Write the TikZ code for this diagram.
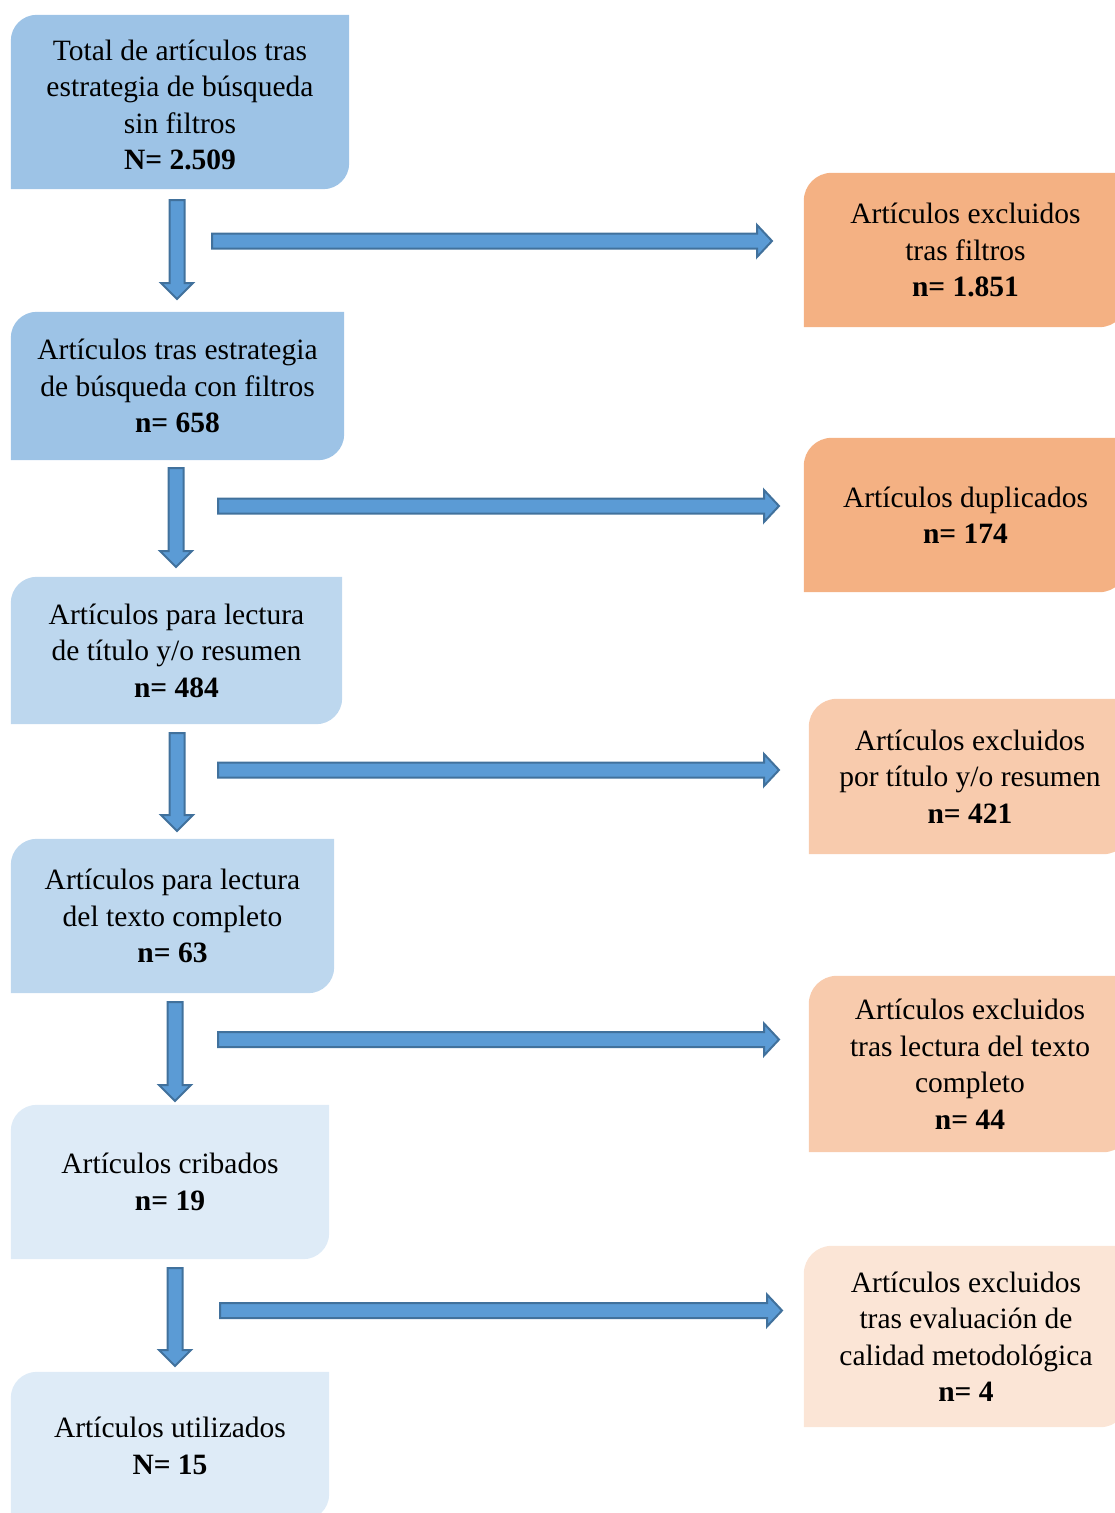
\documentclass[tikz,border=0pt]{standalone}
\usepackage{fontspec}
\setmainfont{Liberation Serif}
\usetikzlibrary{calc,backgrounds}
\definecolor{ldark}{HTML}{9DC3E6}
\definecolor{lmid}{HTML}{BDD7EE}
\definecolor{llight}{HTML}{DEEBF7}
\definecolor{odark}{HTML}{F4B183}
\definecolor{omid}{HTML}{F8CBAD}
\definecolor{olight}{HTML}{FBE5D6}
\definecolor{arrowfill}{HTML}{5B9BD5}
\definecolor{arrowline}{HTML}{41719C}
\tikzset{
  box/.style={shape=rectangle, inner sep=0pt, align=center, font=\fontsize{29.5}{36.5}\selectfont},
  arr/.style={fill=arrowfill, draw=arrowline, line width=2pt, line join=miter},
}
\newcommand\snipfill[3]{%
  \fill[#2] ($(#1.north west)+(0,-#3)$) arc[start angle=180,end angle=90,radius=#3]
    -- (#1.north east) -- ($(#1.south east)+(0,#3)$) arc[start angle=0,end angle=-90,radius=#3]
    -- (#1.south west) -- cycle;}
\newcommand\dnarrow[2]{%
  \draw[arr] ($(#1)+(-7.5,0)$) -- ($(#2)+(-7.5,16)$) -- ($(#2)+(-16,16)$) -- (#2)
    -- ($(#2)+(16,16)$) -- ($(#2)+(7.5,16)$) -- ($(#1)+(7.5,0)$) -- cycle;}
\newcommand\rtarrow[2]{%
  \draw[arr] ($(#1)+(0,7.5)$) -- ($(#2)+(-15,7.5)$) -- ($(#2)+(-15,16)$) -- (#2)
    -- ($(#2)+(-15,-16)$) -- ($(#2)+(-15,-7.5)$) -- ($(#1)+(0,-7.5)$) -- cycle;}
\begin{document}
\begin{tikzpicture}[x=1pt,y=1pt]
\useasboundingbox (0,0) rectangle (1115,-1513);
% left boxes
\node[box, minimum width=338, minimum height=174] (L1) at (180,-102) {};
\node[box] (L1t) at (180,-105) {Total de artículos tras\\estrategia de búsqueda\\sin filtros\\\textbf{N= 2.509}};
\node[box, minimum width=333, minimum height=148] (L2) at (177.5,-386) {Artículos tras estrategia\\de búsqueda con filtros\\\textbf{n= 658}};
\node[box, minimum width=331, minimum height=147] (L3) at (176.5,-650.5) {Artículos para lectura\\de título y/o resumen\\\textbf{n= 484}};
\node[box, minimum width=323, minimum height=154] (L4) at (172.5,-916) {Artículos para lectura\\del texto completo\\\textbf{n= 63}};
\node[box, minimum width=318, minimum height=154] (L5) at (170,-1182) {Artículos cribados\\\textbf{n= 19}};
\node[box, minimum width=318, minimum height=148] (L6) at (170,-1446) {Artículos utilizados\\\textbf{N= 15}};
% right boxes
\node[box, minimum width=323, minimum height=154] (R1) at (965.5,-250) {Artículos excluidos\\tras filtros\\\textbf{n= 1.851}};
\node[box, minimum width=323, minimum height=154] (R2) at (965.5,-515) {Artículos duplicados\\\textbf{n= 174}};
\node[box, minimum width=322, minimum height=155] (R3) at (970,-776.5) {Artículos excluidos\\por título y/o resumen\\\textbf{n= 421}};
\node[box, minimum width=322, minimum height=176] (R4) at (970,-1064) {Artículos excluidos\\tras lectura del texto\\completo\\\textbf{n= 44}};
\node[box, minimum width=324, minimum height=181] (R5) at (966,-1336.5) {Artículos excluidos\\tras evaluación de\\calidad metodológica\\\textbf{n= 4}};
\begin{scope}[on background layer]
\snipfill{L1}{ldark}{26}
\snipfill{L2}{ldark}{26}
\snipfill{L3}{lmid}{26}
\snipfill{L4}{lmid}{26}
\snipfill{L5}{llight}{26}
\snipfill{L6}{llight}{26}
\snipfill{R1}{odark}{28}
\snipfill{R2}{odark}{28}
\snipfill{R3}{omid}{28}
\snipfill{R4}{omid}{28}
\snipfill{R5}{olight}{28}
\end{scope}
% arrow end points
\coordinate (d1s) at (177,-200);   \coordinate (d1e) at (177,-299);
\coordinate (d2s) at (176,-468);   \coordinate (d2e) at (176,-567);
\coordinate (d3s) at (177,-733);   \coordinate (d3e) at (177,-831);
\coordinate (d4s) at (175,-1002);  \coordinate (d4e) at (175,-1101);
\coordinate (d5s) at (175,-1268);  \coordinate (d5e) at (175,-1366);
\coordinate (r1s) at (212,-241);   \coordinate (r1e) at (772,-241);
\coordinate (r2s) at (218,-506);   \coordinate (r2e) at (779,-506);
\coordinate (r3s) at (218,-770);   \coordinate (r3e) at (779,-770);
\coordinate (r4s) at (218,-1039.5);\coordinate (r4e) at (779,-1039.5);
\coordinate (r5s) at (220,-1310.5);\coordinate (r5e) at (782,-1310.5);
\dnarrow{d1s}{d1e}
\dnarrow{d2s}{d2e}
\dnarrow{d3s}{d3e}
\dnarrow{d4s}{d4e}
\dnarrow{d5s}{d5e}
\rtarrow{r1s}{r1e}
\rtarrow{r2s}{r2e}
\rtarrow{r3s}{r3e}
\rtarrow{r4s}{r4e}
\rtarrow{r5s}{r5e}
\end{tikzpicture}
\end{document}
